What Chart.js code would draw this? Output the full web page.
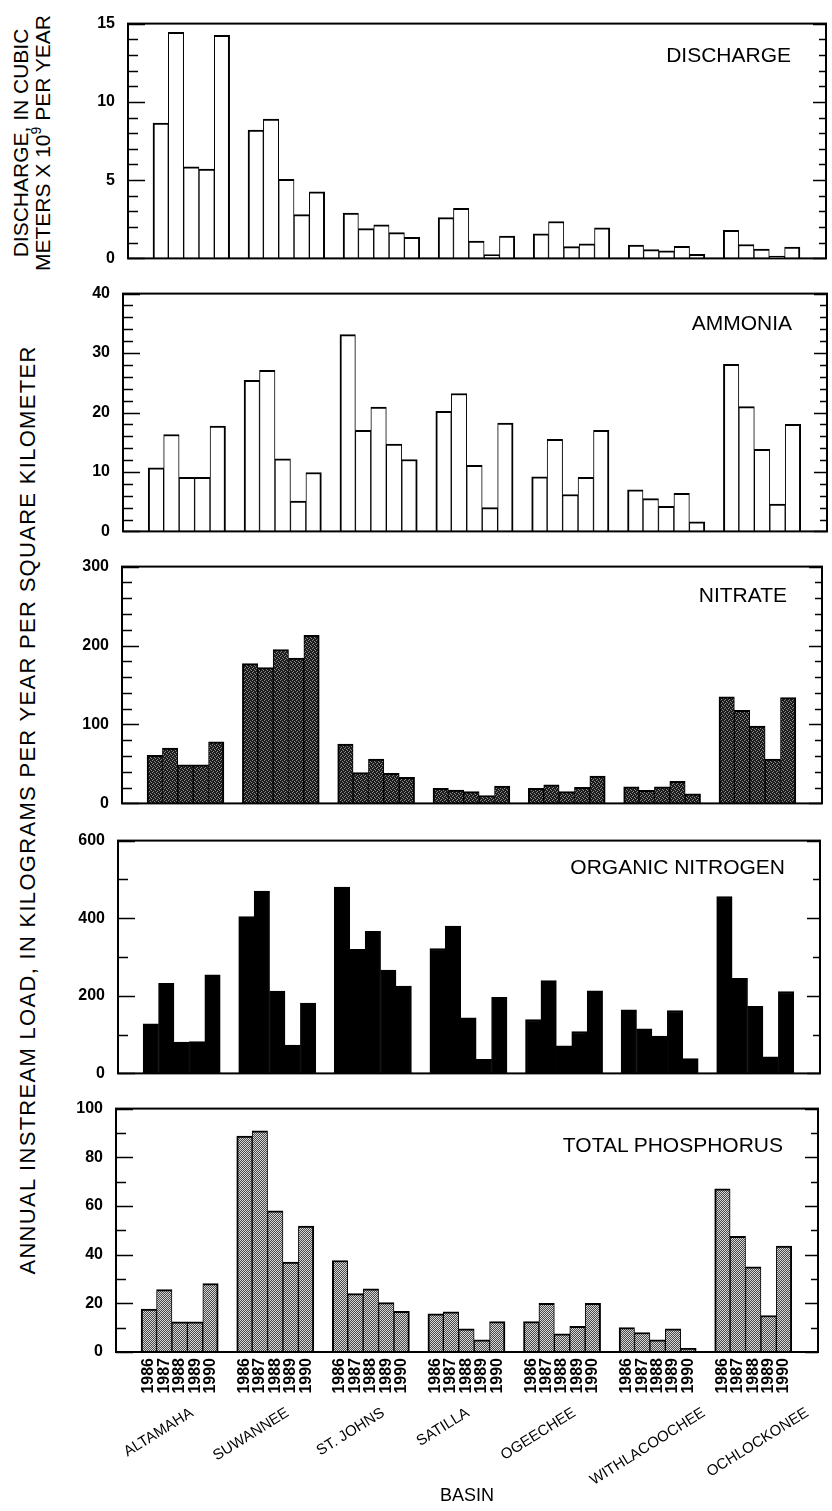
<!DOCTYPE html>
<html><head><meta charset="utf-8">
<script src="https://cdn.jsdelivr.net/npm/chart.js@4.4.1/dist/chart.umd.min.js"></script>
<style>
html,body{margin:0;padding:0;background:#fff;}
body{width:832px;height:1511px;position:relative;overflow:hidden;font-family:"Liberation Sans",Arial,Helvetica,sans-serif;color:#000;}
canvas{position:absolute;left:0;}
.ptitle{position:absolute;font-size:21px;line-height:21px;white-space:nowrap;text-align:right;}
.ytitle{position:absolute;font-size:21px;line-height:22px;white-space:nowrap;text-align:center;transform:translate(-50%,-50%) rotate(-90deg);}
.ytitle sup{font-size:14px;line-height:0;vertical-align:9px;}
</style></head><body>
<div class="ytitle" style="left:32px;top:143px;">DISCHARGE, IN CUBIC<br>METERS X 10<sup>9</sup> PER YEAR</div>
<div class="ytitle" style="left:28px;top:810px;font-size:22px;letter-spacing:1.3px;">ANNUAL INSTREAM LOAD, IN KILOGRAMS PER YEAR PER SQUARE KILOMETER</div>
<script>
// ---- data (grouped by basin, years 1986-1990) ----
const basins = ['ALTAMAHA','SUWANNEE','ST. JOHNS','SATILLA','OGEECHEE','WITHLACOOCHEE','OCHLOCKONEE'];
const years = ['1986','1987','1988','1989','1990'];
const discharge = [8.65,14.45,5.85,5.7,14.25, 8.2,8.9,5.05,2.8,4.25, 2.9,1.9,2.15,1.65,1.35, 2.6,3.2,1.1,0.25,1.43, 1.57,2.36,0.75,0.93,1.96, 0.85,0.56,0.48,0.77,0.26, 1.79,0.89,0.6,0.15,0.73];
const ammonia = [10.7,16.3,9.1,9.1,17.7, 25.4,27.1,12.2,5.1,9.9, 33.1,17.0,20.9,14.7,12.1, 20.2,23.2,11.1,4.0,18.2, 9.2,15.5,6.2,9.1,17.0, 7.0,5.5,4.2,6.4,1.6, 28.1,21.0,13.8,4.6,18.0];
const nitrate = [61,70,49,49,78, 177,172,195,184,213, 75,39,56,38,33, 19,17,15,10,22, 19,23.5,15,20.5,34.5, 21,16.5,21,28,12, 135,118,98,56,134];
const organicN = [128,232,81,82,254, 404,470,212,73,181, 480,320,366,266,225, 322,380,143,36,196, 139,239,71,108,213, 164,115,96,162,38, 456,245,173,43,211];
const totalP = [17.6,25.6,12.4,12.4,28.1, 88.7,90.9,58,36.9,51.7, 37.6,24,26,20.3,16.7, 15.7,16.5,9.5,5,12.5, 12.5,20,7.5,10.5,20, 10,8,5,9.5,1.5, 67,47.5,35,15,43.5];

// ---- layout ----
const GROUP_STEP = 6.2;          // group pitch in bar widths
const XMIN = -2.13, XMAX = 6*GROUP_STEP + 4 + 2.2;
const LABEL_NUDGE = [0, 0, 0, -0.7, 0, 2.2, 2.7];   // hand placement of basin names (in bar widths)
function barX(i){ return Math.floor(i/years.length)*GROUP_STEP + i%years.length; }

Chart.defaults.font.family = '"Liberation Sans", Arial, Helvetica, sans-serif';
Chart.defaults.color = '#000';

function makePattern(ctx, size, bg, fg, pts){
  const c = document.createElement('canvas'); c.width = c.height = size;
  const g = c.getContext('2d'); g.fillStyle = bg; g.fillRect(0,0,size,size);
  g.fillStyle = fg; pts.forEach(([x,y]) => g.fillRect(x,y,1,1));
  return ctx.createPattern(c,'repeat');
}

const framePlugin = {
  id:'frame',
  afterDatasetsDraw(chart, args, o){
    const {ctx, chartArea:a} = chart; const y = chart.scales.y;
    ctx.save(); ctx.strokeStyle = '#000';
    ctx.lineWidth = 1.6; ctx.beginPath();
    for (let v = 0; v <= o.max + 1e-9; v += o.minor){
      const yy = Math.round(y.getPixelForValue(v)) + 0.5;
      const major = Math.abs(v/o.label - Math.round(v/o.label)) < 1e-6;
      ctx.moveTo(a.left, yy); ctx.lineTo(a.left + (major ? 17 : 10), yy);
      ctx.moveTo(a.right, yy); ctx.lineTo(a.right - (major ? 13 : 7), yy);
    }
    ctx.stroke();
    ctx.lineWidth = 2;
    ctx.strokeRect(a.left, a.top, a.right - a.left, a.bottom - a.top);
    ctx.restore();
  }
};

const panels = [
  {values:discharge, title:'DISCHARGE', max:15, label:5, minor:1, top:15, bottom:267, left:128, right:826, capTop:47, fill:'white'},
  {values:ammonia, title:'AMMONIA', max:40, label:10, minor:2, top:285, bottom:540, left:123, right:827, capTop:315, fill:'white'},
  {values:nitrate, title:'NITRATE', max:300, label:100, minor:20, top:558, bottom:812, left:122, right:822, capTop:587, fill:'nitrate'},
  {values:organicN, title:'ORGANIC NITROGEN', max:600, label:200, minor:100, top:832, bottom:1082, left:118, right:820, capTop:859, fill:'#000'},
  {values:totalP, title:'TOTAL PHOSPHORUS', max:100, label:20, minor:10, top:1100, bottom:1352, left:116, right:818, capTop:1137, fill:'tp'}
];

panels.forEach((p, idx) => {
  const last = idx === panels.length - 1;
  const cv = document.createElement('canvas');
  const cTop = p.top - 14;
  const h = last ? 1511 - cTop : (p.bottom - p.top) + 28;
  cv.width = 832; cv.height = h; cv.style.top = cTop + 'px';
  document.body.appendChild(cv);
  const ctx = cv.getContext('2d');
  let fill = p.fill;
  if (fill === 'nitrate') fill = makePattern(ctx, 4, '#1c1c1c', '#8c8c8c', [[0,0],[2,1],[1,3],[3,2]]);
  if (fill === 'tp') fill = makePattern(ctx, 2, '#4a4a4a', '#d6d6d6', [[0,0],[1,1]]);

  const t = document.createElement('div');
  t.className = 'ptitle'; t.textContent = p.title;
  t.style.right = (832 - (p.right - 35)) + 'px';
  t.style.top = (p.capTop - 3) + 'px';
  document.body.appendChild(t);

  new Chart(ctx, {
    type:'bar',
    data:{ datasets:[{
      data: p.values.map((v,i) => ({x:barX(i), y:v})),
      backgroundColor: fill, borderColor:'#000',
      borderWidth: c => ({top:2, bottom:0,
        left: c.dataIndex % years.length === 0 ? 2 : 1,
        right: c.dataIndex % years.length === years.length - 1 ? 2 : 1}),
      borderSkipped:'start',
      categoryPercentage:1, barPercentage:1
    }]},
    options:{
      responsive:false, animation:false, events:[],
      layout:{autoPadding:false, padding:{top:14, bottom: last ? 0 : 14, left:0, right:832 - p.right}},
      plugins:{legend:{display:false}, tooltip:{enabled:false}, frame:{max:p.max, label:p.label, minor:p.minor}},
      scales:{
        x:{type:'linear', min:XMIN, max:XMAX, offset:false, display:last,
           grid:{display:false, drawTicks:false}, border:{display:false},
           afterBuildTicks: s => { s.ticks = p.values.map((v,i) => ({value:barX(i)})); },
           ticks:{autoSkip:false, minRotation:90, maxRotation:90, padding:6, font:{size:16, weight:'bold'},
                  callback:(v,i) => years[i % years.length]},
           afterFit: s => { s.height = last ? 46 : 0; }},
        x2:{type:'linear', min:XMIN, max:XMAX, offset:false, display:last, position:'bottom',
           grid:{display:false, drawTicks:false}, border:{display:false},
           afterBuildTicks: s => { s.ticks = basins.map((b,g) => ({value:g*GROUP_STEP + 2.8 + LABEL_NUDGE[g]})); },
           ticks:{autoSkip:false, minRotation:32, maxRotation:32, padding:6, font:{size:15},
                  callback:(v,i) => basins[i]},
           title:{display:true, text:'BASIN', font:{size:18}, padding:{top:0, bottom:4}},
           afterFit: s => { s.height = last ? 1511 - p.bottom - 46 : 0; }},
        y:{min:0, max:p.max, grid:{display:false, drawTicks:false}, border:{display:false},
           ticks:{stepSize:p.label, padding:13, font:{size:16, weight:'bold'}},
           afterFit: s => { s.width = p.left; }}
      }
    },
    plugins:[framePlugin]
  });
});
</script>
</body></html>
